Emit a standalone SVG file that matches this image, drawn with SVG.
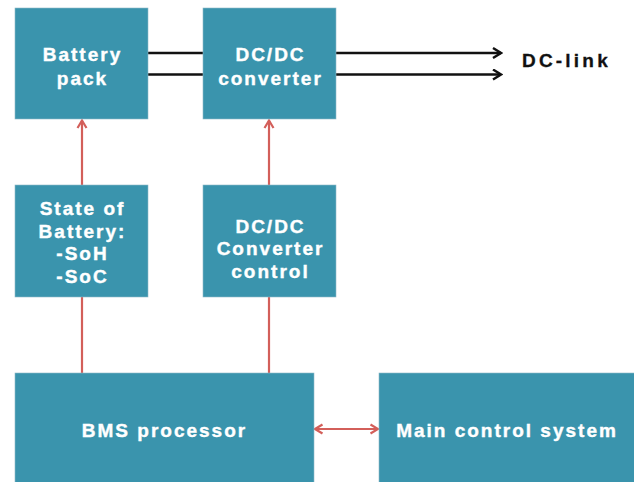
<svg xmlns="http://www.w3.org/2000/svg" width="634" height="482" viewBox="0 0 634 482">
<defs>
<style>
.box{fill:#3a94ad;stroke:#8fb8c8;stroke-width:0.6}
.lbl{font-family:"Liberation Sans",Arial,sans-serif;font-weight:bold;font-size:19px;fill:#ffffff;stroke:#ffffff;stroke-width:0.4;text-anchor:middle;letter-spacing:2px}
.blk{stroke:#111;stroke-width:2.4;fill:none}
.red{stroke:#d35f5a;stroke-width:2.2;fill:none}
</style>
<marker id="ab" viewBox="0 0 12 12" refX="10.5" refY="6" markerWidth="12" markerHeight="12" markerUnits="userSpaceOnUse" orient="auto">
<path d="M2.5,1 L10.5,6 L2.5,11" fill="none" stroke="#111" stroke-width="2.4"/>
</marker>
<marker id="ar" viewBox="0 0 12 12" refX="10.5" refY="6" markerWidth="12" markerHeight="12" markerUnits="userSpaceOnUse" orient="auto-start-reverse">
<path d="M3,1.5 L10.5,6 L3,10.5" fill="none" stroke="#d35f5a" stroke-width="2.2"/>
</marker>
</defs>
<rect width="634" height="482" fill="#ffffff"/>
<g id="connectors">
<line class="blk" x1="148" y1="53" x2="203" y2="53"/>
<line class="blk" x1="148" y1="74.5" x2="203" y2="74.5"/>
<line class="blk" x1="336" y1="53" x2="501" y2="53" marker-end="url(#ab)"/>
<line class="blk" x1="336" y1="74.5" x2="501" y2="74.5" marker-end="url(#ab)"/>
<line class="red" x1="82" y1="185" x2="82" y2="120.5" marker-end="url(#ar)"/>
<line class="red" x1="269" y1="185" x2="269" y2="120.5" marker-end="url(#ar)"/>
<line class="red" x1="82" y1="297" x2="82" y2="373"/>
<line class="red" x1="269" y1="297" x2="269" y2="373"/>
<line class="red" x1="315" y1="429" x2="378" y2="429" marker-start="url(#ar)" marker-end="url(#ar)"/>
</g>
<g id="battery-pack">
<rect class="box" x="15" y="8" width="133" height="111"/>
<text class="lbl" x="82.5" y="61">Battery</text>
<text class="lbl" x="82.5" y="85">pack</text>
</g>
<g id="dcdc-converter">
<rect class="box" x="203" y="8" width="133" height="111"/>
<text class="lbl" x="270.5" y="61">DC/DC</text>
<text class="lbl" x="270.5" y="85">converter</text>
</g>
<g id="dc-link">
<text x="522" y="67" font-family="'Liberation Sans',Arial,sans-serif" font-weight="bold" font-size="19" fill="#111" stroke="#111" stroke-width="0.3" letter-spacing="3.2">DC-link</text>
</g>
<g id="state-of-battery">
<rect class="box" x="15" y="185" width="133" height="112"/>
<text class="lbl" x="82.5" y="215">State of</text>
<text class="lbl" x="82.5" y="237.5">Battery:</text>
<text class="lbl" x="82.5" y="260">-SoH</text>
<text class="lbl" x="82.5" y="283">-SoC</text>
</g>
<g id="dcdc-control">
<rect class="box" x="203" y="185" width="133" height="112"/>
<text class="lbl" x="270.5" y="232.5">DC/DC</text>
<text class="lbl" x="270.5" y="255">Converter</text>
<text class="lbl" x="270.5" y="277.5">control</text>
</g>
<g id="bms-processor">
<rect class="box" x="15" y="373" width="299" height="112"/>
<text class="lbl" x="164.5" y="437">BMS processor</text>
</g>
<g id="main-control">
<rect class="box" x="379" y="373" width="258" height="112"/>
<text class="lbl" x="507" y="437">Main control system</text>
</g>
</svg>
